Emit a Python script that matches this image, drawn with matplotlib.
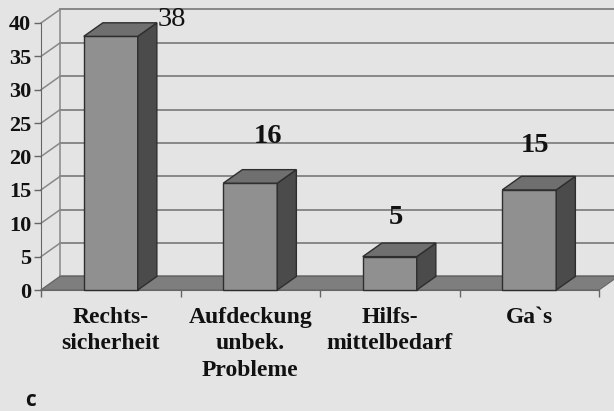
import numpy as np
import matplotlib
matplotlib.use("Agg")
import matplotlib.pyplot as plt
from matplotlib.patches import Polygon

# --- Daten ---
kategorien = ["Rechts-\nsicherheit", "Aufdeckung\nunbek.\nProbleme", "Hilfs-\nmittelbedarf", "Ga`s"]
werte = [38, 16, 5, 15]
y_ticks = [0, 5, 10, 15, 20, 25, 30, 35, 40]

# --- Stil / 3D-Geometrie ---
BG = "#e4e4e4"
C_FRONT = "#909090"
C_SIDE = "#4b4b4b"
C_TOP = "#6f6f6f"
C_FLOOR = "#7e7e7e"
C_GRID = "#888888"
C_EDGE = "#2e2e2e"
serif = "Liberation Serif"

W = 0.387          # Balkenbreite (Kategorien)
DX = 0.137         # Tiefe x (Kategorien)
DY = 2.03          # Tiefe y (Werte)
# Position der Wertebeschriftungen relativ zur Balkenmitte / -oberkante
lab_dx = [0.44, 0.13, 0.045, 0.04]
lab_dy = [2.5, 7.0, 5.8, 6.7]
lab_weight = ["normal", "bold", "bold", "bold"]

fig = plt.figure(figsize=(6.14, 4.11), dpi=100, facecolor=BG)
ax = fig.add_axes([41 / 614, 1 - 290 / 411, 558 / 614, 267 / 411])
ax.set_facecolor("none")
ax.set_xlim(-0.5, 3.5)
ax.set_ylim(0, 40)
x0 = -0.5
x1 = len(werte) - 0.5

# Rückwand + Seitenwand (Gitterlinien)
for v in y_ticks:
    ax.plot([x0 + DX, x1 + DX + 0.2], [v + DY, v + DY], color=C_GRID, lw=1.4,
            clip_on=False, zorder=1)
    ax.plot([x0, x0 + DX], [v, v + DY], color=C_GRID, lw=1.1, clip_on=False, zorder=1)
ax.plot([x0 + DX, x0 + DX], [DY, 40 + DY], color=C_GRID, lw=1.1, clip_on=False, zorder=1)

# Boden
ax.add_patch(Polygon([[x0, 0], [x1, 0], [x1 + DX, DY], [x0 + DX, DY]],
                     closed=True, facecolor=C_FLOOR, edgecolor="#666666", lw=0.8,
                     clip_on=False, zorder=2))

# Balken
for i, v in enumerate(werte):
    l, r = i - W / 2, i + W / 2
    ax.bar(i, v, width=W, color=C_FRONT, edgecolor=C_EDGE, lw=1.0, zorder=4, clip_on=False)
    ax.add_patch(Polygon([[r, 0], [r + DX, DY], [r + DX, v + DY], [r, v]], closed=True,
                         facecolor=C_SIDE, edgecolor=C_EDGE, lw=1.0, clip_on=False, zorder=4))
    ax.add_patch(Polygon([[l, v], [r, v], [r + DX, v + DY], [l + DX, v + DY]], closed=True,
                         facecolor=C_TOP, edgecolor=C_EDGE, lw=1.0, clip_on=False, zorder=4))
    ax.text(i + lab_dx[i], v + lab_dy[i], str(v), ha="center", va="center",
            fontsize=20.5, family=serif, weight=lab_weight[i], color="#111111", zorder=5)

# Achsen
for s in ["top", "right"]:
    ax.spines[s].set_visible(False)
ax.spines["left"].set_color("#666666")
ax.spines["bottom"].set_color("#666666")
ax.spines["left"].set_zorder(3)
ax.spines["bottom"].set_zorder(3)
ax.set_yticks(y_ticks)
ax.set_yticklabels([str(t) for t in y_ticks], fontsize=16, family=serif, weight="bold",
                   color="#111111")
ax.tick_params(axis="y", direction="out", length=5, width=1, color="#666666", pad=2)
ax.set_xticks(range(len(kategorien)))
ax.set_xticklabels(kategorien, fontsize=17, family=serif, weight="bold", color="#111111",
                   linespacing=1.35, va="top")
ax.set_xticks(np.arange(x0, x1 + 0.01, 1.0), minor=True)
ax.tick_params(axis="x", which="major", length=0, pad=12)
ax.tick_params(axis="x", which="minor", direction="out", length=5, width=1, color="#666666")

fig.text(30 / 614, 1 - 400 / 411, "c", fontsize=15, family="Open Sans", weight="bold",
         ha="center", va="center", color="#111111")

fig.savefig("out.png", dpi=100, facecolor=BG)
